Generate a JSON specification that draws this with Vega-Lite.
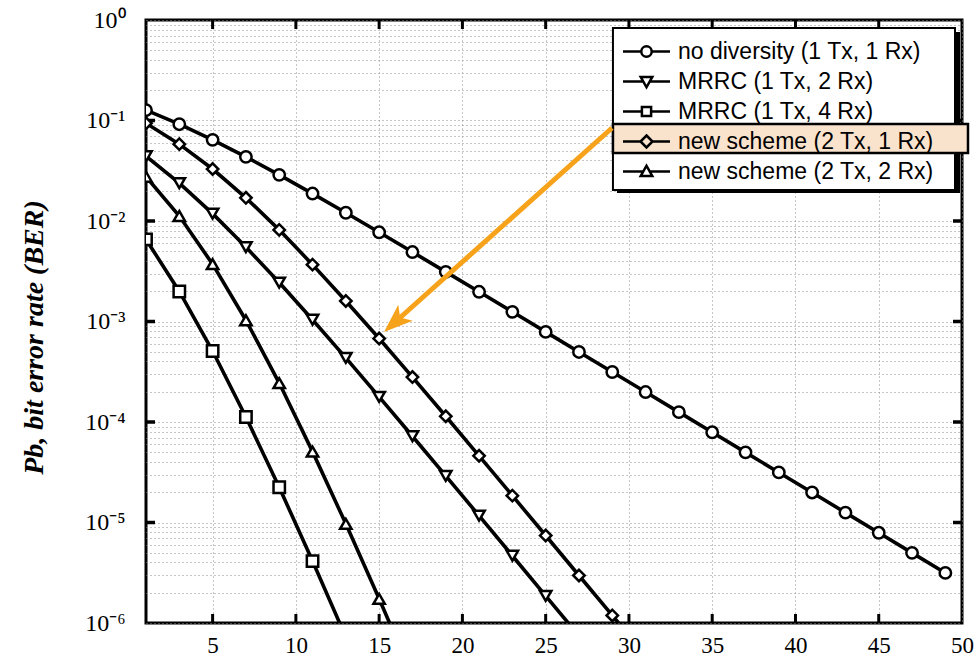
{
  "$schema": "https://vega.github.io/schema/vega-lite/v6.json",
  "autosize": {"type": "none"},
  "padding": {"left": 146, "top": 20, "right": 13, "bottom": 37},
  "width": 816,
  "height": 603,
  "background": "white",
  "config": {"view": {"stroke": "black", "strokeWidth": 3}},
  "datasets": {
    "ber": [
      {"scheme": "no diversity (1 Tx, 1 Rx)", "snr": 1, "ber": 0.1267},
      {"scheme": "no diversity (1 Tx, 1 Rx)", "snr": 3, "ber": 0.0919},
      {"scheme": "no diversity (1 Tx, 1 Rx)", "snr": 5, "ber": 0.0642},
      {"scheme": "no diversity (1 Tx, 1 Rx)", "snr": 7, "ber": 0.0435},
      {"scheme": "no diversity (1 Tx, 1 Rx)", "snr": 9, "ber": 0.0288},
      {"scheme": "no diversity (1 Tx, 1 Rx)", "snr": 11, "ber": 0.01875},
      {"scheme": "no diversity (1 Tx, 1 Rx)", "snr": 13, "ber": 0.01208},
      {"scheme": "no diversity (1 Tx, 1 Rx)", "snr": 15, "ber": 0.00772},
      {"scheme": "no diversity (1 Tx, 1 Rx)", "snr": 17, "ber": 0.00491},
      {"scheme": "no diversity (1 Tx, 1 Rx)", "snr": 19, "ber": 0.00312},
      {"scheme": "no diversity (1 Tx, 1 Rx)", "snr": 21, "ber": 0.001974},
      {"scheme": "no diversity (1 Tx, 1 Rx)", "snr": 23, "ber": 0.001248},
      {"scheme": "no diversity (1 Tx, 1 Rx)", "snr": 25, "ber": 0.000788},
      {"scheme": "no diversity (1 Tx, 1 Rx)", "snr": 27, "ber": 0.000498},
      {"scheme": "no diversity (1 Tx, 1 Rx)", "snr": 29, "ber": 0.0003145},
      {"scheme": "no diversity (1 Tx, 1 Rx)", "snr": 31, "ber": 0.0001985},
      {"scheme": "no diversity (1 Tx, 1 Rx)", "snr": 33, "ber": 0.0001253},
      {"scheme": "no diversity (1 Tx, 1 Rx)", "snr": 35, "ber": 0.000079},
      {"scheme": "no diversity (1 Tx, 1 Rx)", "snr": 37, "ber": 0.0000499},
      {"scheme": "no diversity (1 Tx, 1 Rx)", "snr": 39, "ber": 0.0000315},
      {"scheme": "no diversity (1 Tx, 1 Rx)", "snr": 41, "ber": 0.0000199},
      {"scheme": "no diversity (1 Tx, 1 Rx)", "snr": 43, "ber": 0.00001253},
      {"scheme": "no diversity (1 Tx, 1 Rx)", "snr": 45, "ber": 0.0000079},
      {"scheme": "no diversity (1 Tx, 1 Rx)", "snr": 47, "ber": 0.00000499},
      {"scheme": "no diversity (1 Tx, 1 Rx)", "snr": 49, "ber": 0.00000315},
      {"scheme": "MRRC (1 Tx, 2 Rx)", "snr": 1, "ber": 0.0441},
      {"scheme": "MRRC (1 Tx, 2 Rx)", "snr": 3, "ber": 0.0238},
      {"scheme": "MRRC (1 Tx, 2 Rx)", "snr": 5, "ber": 0.01184},
      {"scheme": "MRRC (1 Tx, 2 Rx)", "snr": 7, "ber": 0.0055},
      {"scheme": "MRRC (1 Tx, 2 Rx)", "snr": 9, "ber": 0.00244},
      {"scheme": "MRRC (1 Tx, 2 Rx)", "snr": 11, "ber": 0.00104},
      {"scheme": "MRRC (1 Tx, 2 Rx)", "snr": 13, "ber": 0.000434},
      {"scheme": "MRRC (1 Tx, 2 Rx)", "snr": 15, "ber": 0.000178},
      {"scheme": "MRRC (1 Tx, 2 Rx)", "snr": 17, "ber": 0.0000722},
      {"scheme": "MRRC (1 Tx, 2 Rx)", "snr": 19, "ber": 0.0000291},
      {"scheme": "MRRC (1 Tx, 2 Rx)", "snr": 21, "ber": 0.0000117},
      {"scheme": "MRRC (1 Tx, 2 Rx)", "snr": 23, "ber": 0.00000467},
      {"scheme": "MRRC (1 Tx, 2 Rx)", "snr": 25, "ber": 0.00000186},
      {"scheme": "MRRC (1 Tx, 2 Rx)", "snr": 27, "ber": 0.000000746},
      {"scheme": "MRRC (1 Tx, 4 Rx)", "snr": 1, "ber": 0.00657},
      {"scheme": "MRRC (1 Tx, 4 Rx)", "snr": 3, "ber": 0.00199},
      {"scheme": "MRRC (1 Tx, 4 Rx)", "snr": 5, "ber": 0.000508},
      {"scheme": "MRRC (1 Tx, 4 Rx)", "snr": 7, "ber": 0.000112},
      {"scheme": "MRRC (1 Tx, 4 Rx)", "snr": 9, "ber": 0.0000224},
      {"scheme": "MRRC (1 Tx, 4 Rx)", "snr": 11, "ber": 0.00000413},
      {"scheme": "MRRC (1 Tx, 4 Rx)", "snr": 13, "ber": 0.000000723},
      {"scheme": "new scheme (2 Tx, 1 Rx)", "snr": 1, "ber": 0.0939},
      {"scheme": "new scheme (2 Tx, 1 Rx)", "snr": 3, "ber": 0.0582},
      {"scheme": "new scheme (2 Tx, 1 Rx)", "snr": 5, "ber": 0.0329},
      {"scheme": "new scheme (2 Tx, 1 Rx)", "snr": 7, "ber": 0.017},
      {"scheme": "new scheme (2 Tx, 1 Rx)", "snr": 9, "ber": 0.00816},
      {"scheme": "new scheme (2 Tx, 1 Rx)", "snr": 11, "ber": 0.00368},
      {"scheme": "new scheme (2 Tx, 1 Rx)", "snr": 13, "ber": 0.0016},
      {"scheme": "new scheme (2 Tx, 1 Rx)", "snr": 15, "ber": 0.000677},
      {"scheme": "new scheme (2 Tx, 1 Rx)", "snr": 17, "ber": 0.00028},
      {"scheme": "new scheme (2 Tx, 1 Rx)", "snr": 19, "ber": 0.000114},
      {"scheme": "new scheme (2 Tx, 1 Rx)", "snr": 21, "ber": 0.0000461},
      {"scheme": "new scheme (2 Tx, 1 Rx)", "snr": 23, "ber": 0.0000185},
      {"scheme": "new scheme (2 Tx, 1 Rx)", "snr": 25, "ber": 0.00000742},
      {"scheme": "new scheme (2 Tx, 1 Rx)", "snr": 27, "ber": 0.00000297},
      {"scheme": "new scheme (2 Tx, 1 Rx)", "snr": 29, "ber": 0.00000119},
      {"scheme": "new scheme (2 Tx, 1 Rx)", "snr": 31, "ber": 0.000000473},
      {"scheme": "new scheme (2 Tx, 2 Rx)", "snr": 1, "ber": 0.0276},
      {"scheme": "new scheme (2 Tx, 2 Rx)", "snr": 3, "ber": 0.0112},
      {"scheme": "new scheme (2 Tx, 2 Rx)", "snr": 5, "ber": 0.00372},
      {"scheme": "new scheme (2 Tx, 2 Rx)", "snr": 7, "ber": 0.00103},
      {"scheme": "new scheme (2 Tx, 2 Rx)", "snr": 9, "ber": 0.000244},
      {"scheme": "new scheme (2 Tx, 2 Rx)", "snr": 11, "ber": 0.0000507},
      {"scheme": "new scheme (2 Tx, 2 Rx)", "snr": 13, "ber": 0.0000097},
      {"scheme": "new scheme (2 Tx, 2 Rx)", "snr": 15, "ber": 0.00000174},
      {"scheme": "new scheme (2 Tx, 2 Rx)", "snr": 17, "ber": 0.000000298}
    ],
    "arrow": [
      {"snr": 28.98, "ber": 0.0842, "snr2": 16.1, "ber2": 0.001035}
    ],
    "legendbox": [
      {"part": "shadow", "snr": 29.28, "snr2": 49.88, "ber": 0.7597, "ber2": 0.019},
      {"part": "box", "snr": 29.04, "snr2": 49.58, "ber": 0.8325, "ber2": 0.02035},
      {"part": "highlight", "snr": 29.04, "snr2": 50.36, "ber": 0.0923, "ber2": 0.04748}
    ],
    "xticks": [
      {"snr": 5, "ber": 0.000001}, {"snr": 10, "ber": 0.000001}, {"snr": 15, "ber": 0.000001},
      {"snr": 20, "ber": 0.000001}, {"snr": 25, "ber": 0.000001}, {"snr": 30, "ber": 0.000001},
      {"snr": 35, "ber": 0.000001}, {"snr": 40, "ber": 0.000001}, {"snr": 45, "ber": 0.000001},
      {"snr": 5, "ber": 1}, {"snr": 10, "ber": 1}, {"snr": 15, "ber": 1},
      {"snr": 20, "ber": 1}, {"snr": 25, "ber": 1}, {"snr": 30, "ber": 1},
      {"snr": 35, "ber": 1}, {"snr": 40, "ber": 1}, {"snr": 45, "ber": 1}
    ],
    "yticks": [
      {"snr": 1, "ber": 0.00001}, {"snr": 1, "ber": 0.0001}, {"snr": 1, "ber": 0.001},
      {"snr": 1, "ber": 0.01}, {"snr": 1, "ber": 0.1},
      {"snr": 50, "ber": 0.00001}, {"snr": 50, "ber": 0.0001}, {"snr": 50, "ber": 0.001},
      {"snr": 50, "ber": 0.01}, {"snr": 50, "ber": 0.1}
    ]
  },
  "resolve": {"scale": {"shape": "independent"}},
  "layer": [
    {
      "data": {"name": "ber"},
      "mark": {"type": "line", "color": "black", "strokeWidth": 3.6, "clip": true},
      "encoding": {
        "x": {
          "field": "snr", "type": "quantitative",
          "scale": {"domain": [1, 50], "nice": false, "zero": false},
          "axis": {
            "title": null,
            "values": [5, 10, 15, 20, 25, 30, 35, 40, 45, 50],
            "domain": false, "ticks": false, "tickSize": 0,
            "labelFont": "Liberation Serif", "labelFontSize": 23, "labelColor": "black",
            "labelPadding": 11, "labelFlush": false,
            "grid": true, "gridColor": "#8c8c8c", "gridDash": [1, 3], "gridWidth": 1
          }
        },
        "y": {
          "field": "ber", "type": "quantitative",
          "scale": {"type": "log", "domain": [0.000001, 1], "nice": false},
          "axis": {
            "title": "Pb, bit error rate (BER)",
            "titleFont": "Liberation Serif", "titleFontSize": 28, "titleFontWeight": "bold", "titleFontStyle": "italic",
            "titleColor": "black", "titlePadding": 36, "titleY": 317,
            "values": [0.000001, 0.000002, 0.000003, 0.000004, 0.000005, 0.000006, 0.000007, 0.000008, 0.000009,
                       0.00001, 0.00002, 0.00003, 0.00004, 0.00005, 0.00006, 0.00007, 0.00008, 0.00009,
                       0.0001, 0.0002, 0.0003, 0.0004, 0.0005, 0.0006, 0.0007, 0.0008, 0.0009,
                       0.001, 0.002, 0.003, 0.004, 0.005, 0.006, 0.007, 0.008, 0.009,
                       0.01, 0.02, 0.03, 0.04, 0.05, 0.06, 0.07, 0.08, 0.09,
                       0.1, 0.2, 0.3, 0.4, 0.5, 0.6, 0.7, 0.8, 0.9, 1],
            "labelExpr": "abs(log(datum.value)/LN10 - round(log(datum.value)/LN10)) > 0.001 ? '' : ['10⁻⁶','10⁻⁵','10⁻⁴','10⁻³','10⁻²','10⁻¹','10⁰'][round(log(datum.value)/LN10)+6]",
            "domain": false, "ticks": false, "tickSize": 0,
            "labelFont": "Liberation Serif", "labelFontSize": 24, "labelColor": "black",
            "labelPadding": 21, "labelFlush": false,
            "grid": true, "gridColor": "#8c8c8c", "gridDash": [1, 3], "gridWidth": 1
          }
        },
        "detail": {"field": "scheme"}
      }
    },
    {
      "data": {"name": "xticks"},
      "mark": {"type": "tick", "orient": "vertical", "color": "black", "opacity": 1, "size": 18, "thickness": 3, "clip": true},
      "encoding": {
        "x": {"field": "snr", "type": "quantitative", "scale": {"domain": [1, 50], "nice": false, "zero": false}},
        "y": {"field": "ber", "type": "quantitative", "scale": {"type": "log", "domain": [0.000001, 1], "nice": false}}
      }
    },
    {
      "data": {"name": "yticks"},
      "mark": {"type": "tick", "orient": "horizontal", "color": "black", "opacity": 1, "size": 18, "thickness": 3.5, "clip": true},
      "encoding": {
        "x": {"field": "snr", "type": "quantitative", "scale": {"domain": [1, 50], "nice": false, "zero": false}},
        "y": {"field": "ber", "type": "quantitative", "scale": {"type": "log", "domain": [0.000001, 1], "nice": false}}
      }
    },
    {
      "data": {"name": "ber"},
      "mark": {"type": "point", "filled": false, "fill": "white", "fillOpacity": 1, "color": "black", "stroke": "black", "strokeWidth": 2.5, "size": 130, "opacity": 1, "clip": true},
      "encoding": {
        "x": {"field": "snr", "type": "quantitative", "scale": {"domain": [1, 50], "nice": false, "zero": false}},
        "y": {"field": "ber", "type": "quantitative", "scale": {"type": "log", "domain": [0.000001, 1], "nice": false}},
        "shape": {
          "field": "scheme", "type": "nominal",
          "scale": {
            "domain": ["no diversity (1 Tx, 1 Rx)", "MRRC (1 Tx, 2 Rx)", "MRRC (1 Tx, 4 Rx)", "new scheme (2 Tx, 1 Rx)", "new scheme (2 Tx, 2 Rx)"],
            "range": ["circle", "triangle-down", "square", "diamond", "triangle-up"]
          },
          "legend": null
        }
      }
    },
    {
      "data": {"name": "legendbox"},
      "transform": [{"filter": "datum.part === 'shadow'"}],
      "mark": {"type": "rect", "color": "black", "opacity": 1, "clip": false},
      "encoding": {
        "x": {"field": "snr", "type": "quantitative", "scale": {"domain": [1, 50], "nice": false, "zero": false}},
        "x2": {"field": "snr2"},
        "y": {"field": "ber", "type": "quantitative", "scale": {"type": "log", "domain": [0.000001, 1], "nice": false}},
        "y2": {"field": "ber2"}
      }
    },
    {
      "data": {"name": "legendbox"},
      "transform": [{"filter": "datum.part === 'box'"}],
      "mark": {"type": "rect", "fill": "white", "stroke": "black", "strokeWidth": 2, "opacity": 1, "clip": false},
      "encoding": {
        "x": {"field": "snr", "type": "quantitative", "scale": {"domain": [1, 50], "nice": false, "zero": false}},
        "x2": {"field": "snr2"},
        "y": {"field": "ber", "type": "quantitative", "scale": {"type": "log", "domain": [0.000001, 1], "nice": false}},
        "y2": {"field": "ber2"}
      }
    },
    {
      "data": {"name": "legendbox"},
      "transform": [{"filter": "datum.part === 'highlight'"}],
      "mark": {"type": "rect", "fill": "#fae3cd", "stroke": "black", "strokeWidth": 2.5, "opacity": 1, "clip": false},
      "encoding": {
        "x": {"field": "snr", "type": "quantitative", "scale": {"domain": [1, 50], "nice": false, "zero": false}},
        "x2": {"field": "snr2"},
        "y": {"field": "ber", "type": "quantitative", "scale": {"type": "log", "domain": [0.000001, 1], "nice": false}},
        "y2": {"field": "ber2"}
      }
    },
    {
      "data": {"name": "ber"},
      "transform": [{"filter": "false"}],
      "mark": {"type": "point", "filled": false, "color": "black", "strokeWidth": 2.5, "size": 400, "opacity": 1},
      "encoding": {
        "x": {"field": "snr", "type": "quantitative", "scale": {"domain": [1, 50], "nice": false, "zero": false}},
        "y": {"field": "ber", "type": "quantitative", "scale": {"type": "log", "domain": [0.000001, 1], "nice": false}},
        "shape": {
          "field": "scheme", "type": "nominal",
          "scale": {
            "domain": ["no diversity (1 Tx, 1 Rx)", "MRRC (1 Tx, 2 Rx)", "MRRC (1 Tx, 4 Rx)", "new scheme (2 Tx, 1 Rx)", "new scheme (2 Tx, 2 Rx)"],
            "range": [
              "M-2.35,0H-0.52M0.52,0H2.35M-0.52,0A0.52,0.52,0,1,1,0.52,0A0.52,0.52,0,1,1,-0.52,0Z",
              "M-2.35,0H-0.32M0.32,0H2.35M-0.58,-0.46L0.58,-0.46L0,0.58Z",
              "M-2.35,0H-0.46M0.46,0H2.35M-0.46,-0.46H0.46V0.46H-0.46Z",
              "M-2.35,0H-0.6M0.6,0H2.35M0,-0.6L0.6,0L0,0.6L-0.6,0Z",
              "M-2.35,0H-0.32M0.32,0H2.35M-0.58,0.46L0.58,0.46L0,-0.58Z"
            ]
          },
          "legend": {
            "title": null,
            "orient": "none",
            "legendX": 477,
            "legendY": 20,
            "padding": 0,
            "fillColor": "transparent",
            "strokeColor": "transparent",
            "labelFont": "Liberation Sans", "labelFontSize": 23, "labelColor": "black", "labelOffset": 20, "labelLimit": 400,
            "symbolSize": 400, "symbolOffset": 12, "symbolStrokeWidth": 2.5, "symbolOpacity": 1,
            "rowPadding": 6
          }
        }
      }
    },
    {
      "data": {"name": "arrow"},
      "mark": {"type": "rule", "color": "#f7a21b", "strokeWidth": 5},
      "encoding": {
        "x": {"field": "snr", "type": "quantitative", "scale": {"domain": [1, 50], "nice": false, "zero": false}},
        "y": {"field": "ber", "type": "quantitative", "scale": {"type": "log", "domain": [0.000001, 1], "nice": false}},
        "x2": {"field": "snr2"},
        "y2": {"field": "ber2"}
      }
    },
    {
      "data": {"name": "arrow"},
      "mark": {"type": "point", "filled": true, "color": "#f7a21b", "opacity": 1, "size": 1296, "angle": 228, "shape": "M0,-1L0.6,0.6L0,0.2L-0.6,0.6Z"},
      "encoding": {
        "x": {"field": "snr2", "type": "quantitative", "scale": {"domain": [1, 50], "nice": false, "zero": false}},
        "y": {"field": "ber2", "type": "quantitative", "scale": {"type": "log", "domain": [0.000001, 1], "nice": false}}
      }
    }
  ]
}
